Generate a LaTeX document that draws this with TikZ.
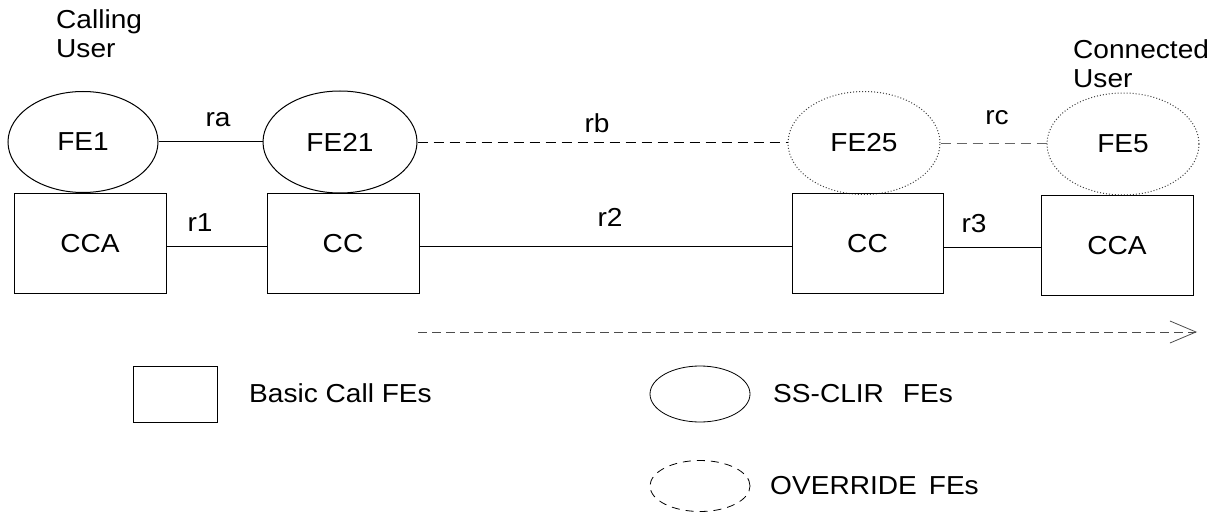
\documentclass[tikz,border=0pt]{standalone}
\usepackage{fontspec}
\setmainfont{Liberation Sans}[FakeStretch=1.08]
\usetikzlibrary{shapes.geometric,arrows.meta}
\begin{document}
\begin{tikzpicture}[x=1pt,y=-1pt,
  every node/.style={font=\fontsize{26}{29}\selectfont, inner sep=0pt},
  fe/.style={ellipse, draw, line width=1pt, minimum width=150pt, minimum height=101pt},
  ovfe/.style={fe, dotted, draw=black!75},
  fbox/.style={rectangle, draw, line width=1pt, minimum width=152pt, minimum height=99pt},
  link/.style={line width=1pt},
  dlink/.style={line width=0.9pt, dash pattern=on 10pt off 6pt},
]
\useasboundingbox (0,0) rectangle (1220,513);
% users
\node[anchor=base west, align=left] (cu) at (56,58) {Calling\\User};
\node[anchor=base west, align=left] (du) at (1073,88) {Connected\\User};
% FEs
\node[fe] (fe1) at (83,142) {FE1};
\node[fe, minimum width=154pt, minimum height=102pt] (fe21) at (340,142) {FE21};
\node[ovfe, minimum width=152pt, minimum height=103pt] (fe25) at (864,143) {FE25};
\node[ovfe, minimum width=152pt, minimum height=102pt] (fe5) at (1123,144) {FE5};
% boxes
\node[fbox] (cca1) at (90,243.5) {CCA};
\node[fbox] (cc1) at (343,243.5) {CC};
\node[fbox, minimum width=151pt] (cc2) at (867.5,243.5) {CC};
\node[fbox] (cca2) at (1117,245.5) {CCA};
% links
\draw[link] (fe1.east) -- (fe1.east -| fe21.west);
\draw[dlink] (fe21.east) -- (fe21.east -| fe25.west);
\draw[dlink, draw=black!60] (fe25.east) -- (fe25.east -| fe5.west);
\draw[link] ([yshift=-2.5pt]cca1.east) -- ([yshift=-2.5pt]cc1.west);
\draw[link] ([yshift=-2.5pt]cc1.east) -- ([yshift=-2.5pt]cc2.west);
\draw[link] ([yshift=-3.5pt]cc2.east) -- ([yshift=-3.5pt]cc2.east -| cca2.west);
% link labels
\node (ra) at (218,120) {ra};
\node (rb) at (597,123) {rb};
\node (rc) at (997,118) {rc};
\node (r1) at (200,223) {r1};
\node (r2) at (610,217) {r2};
\node (r3) at (974,224) {r3};
% direction arrow
\coordinate (as) at (418,332);
\coordinate (ae) at (1197,332);
\draw[line width=0.8pt, draw=black!70, dash pattern=on 9pt off 5pt,
  -{Straight Barb[length=26pt,width=22pt,line width=0.8pt]}] (as) -- (ae);
% legend
\node[fbox, minimum width=84pt, minimum height=56pt, line width=0.8pt] (lg1) at (175,394) {};
\node[anchor=west] (lt1) at (249,393) {Basic Call FEs};
\node[ellipse, draw, line width=0.8pt, minimum width=100pt, minimum height=56pt] (lg2) at (700,394) {};
\node[anchor=west] (lt2) at (773,394) {SS-CLIR\hspace{19pt}FEs};
\node[anchor=west] (lt3) at (770,486) {OVERRIDE\hspace{12pt}FEs};
\node[ellipse, draw, line width=0.8pt, dash pattern=on 8pt off 6pt, minimum width=100pt, minimum height=51pt] (lg3) at (700,486) {};
\end{tikzpicture}
\end{document}
